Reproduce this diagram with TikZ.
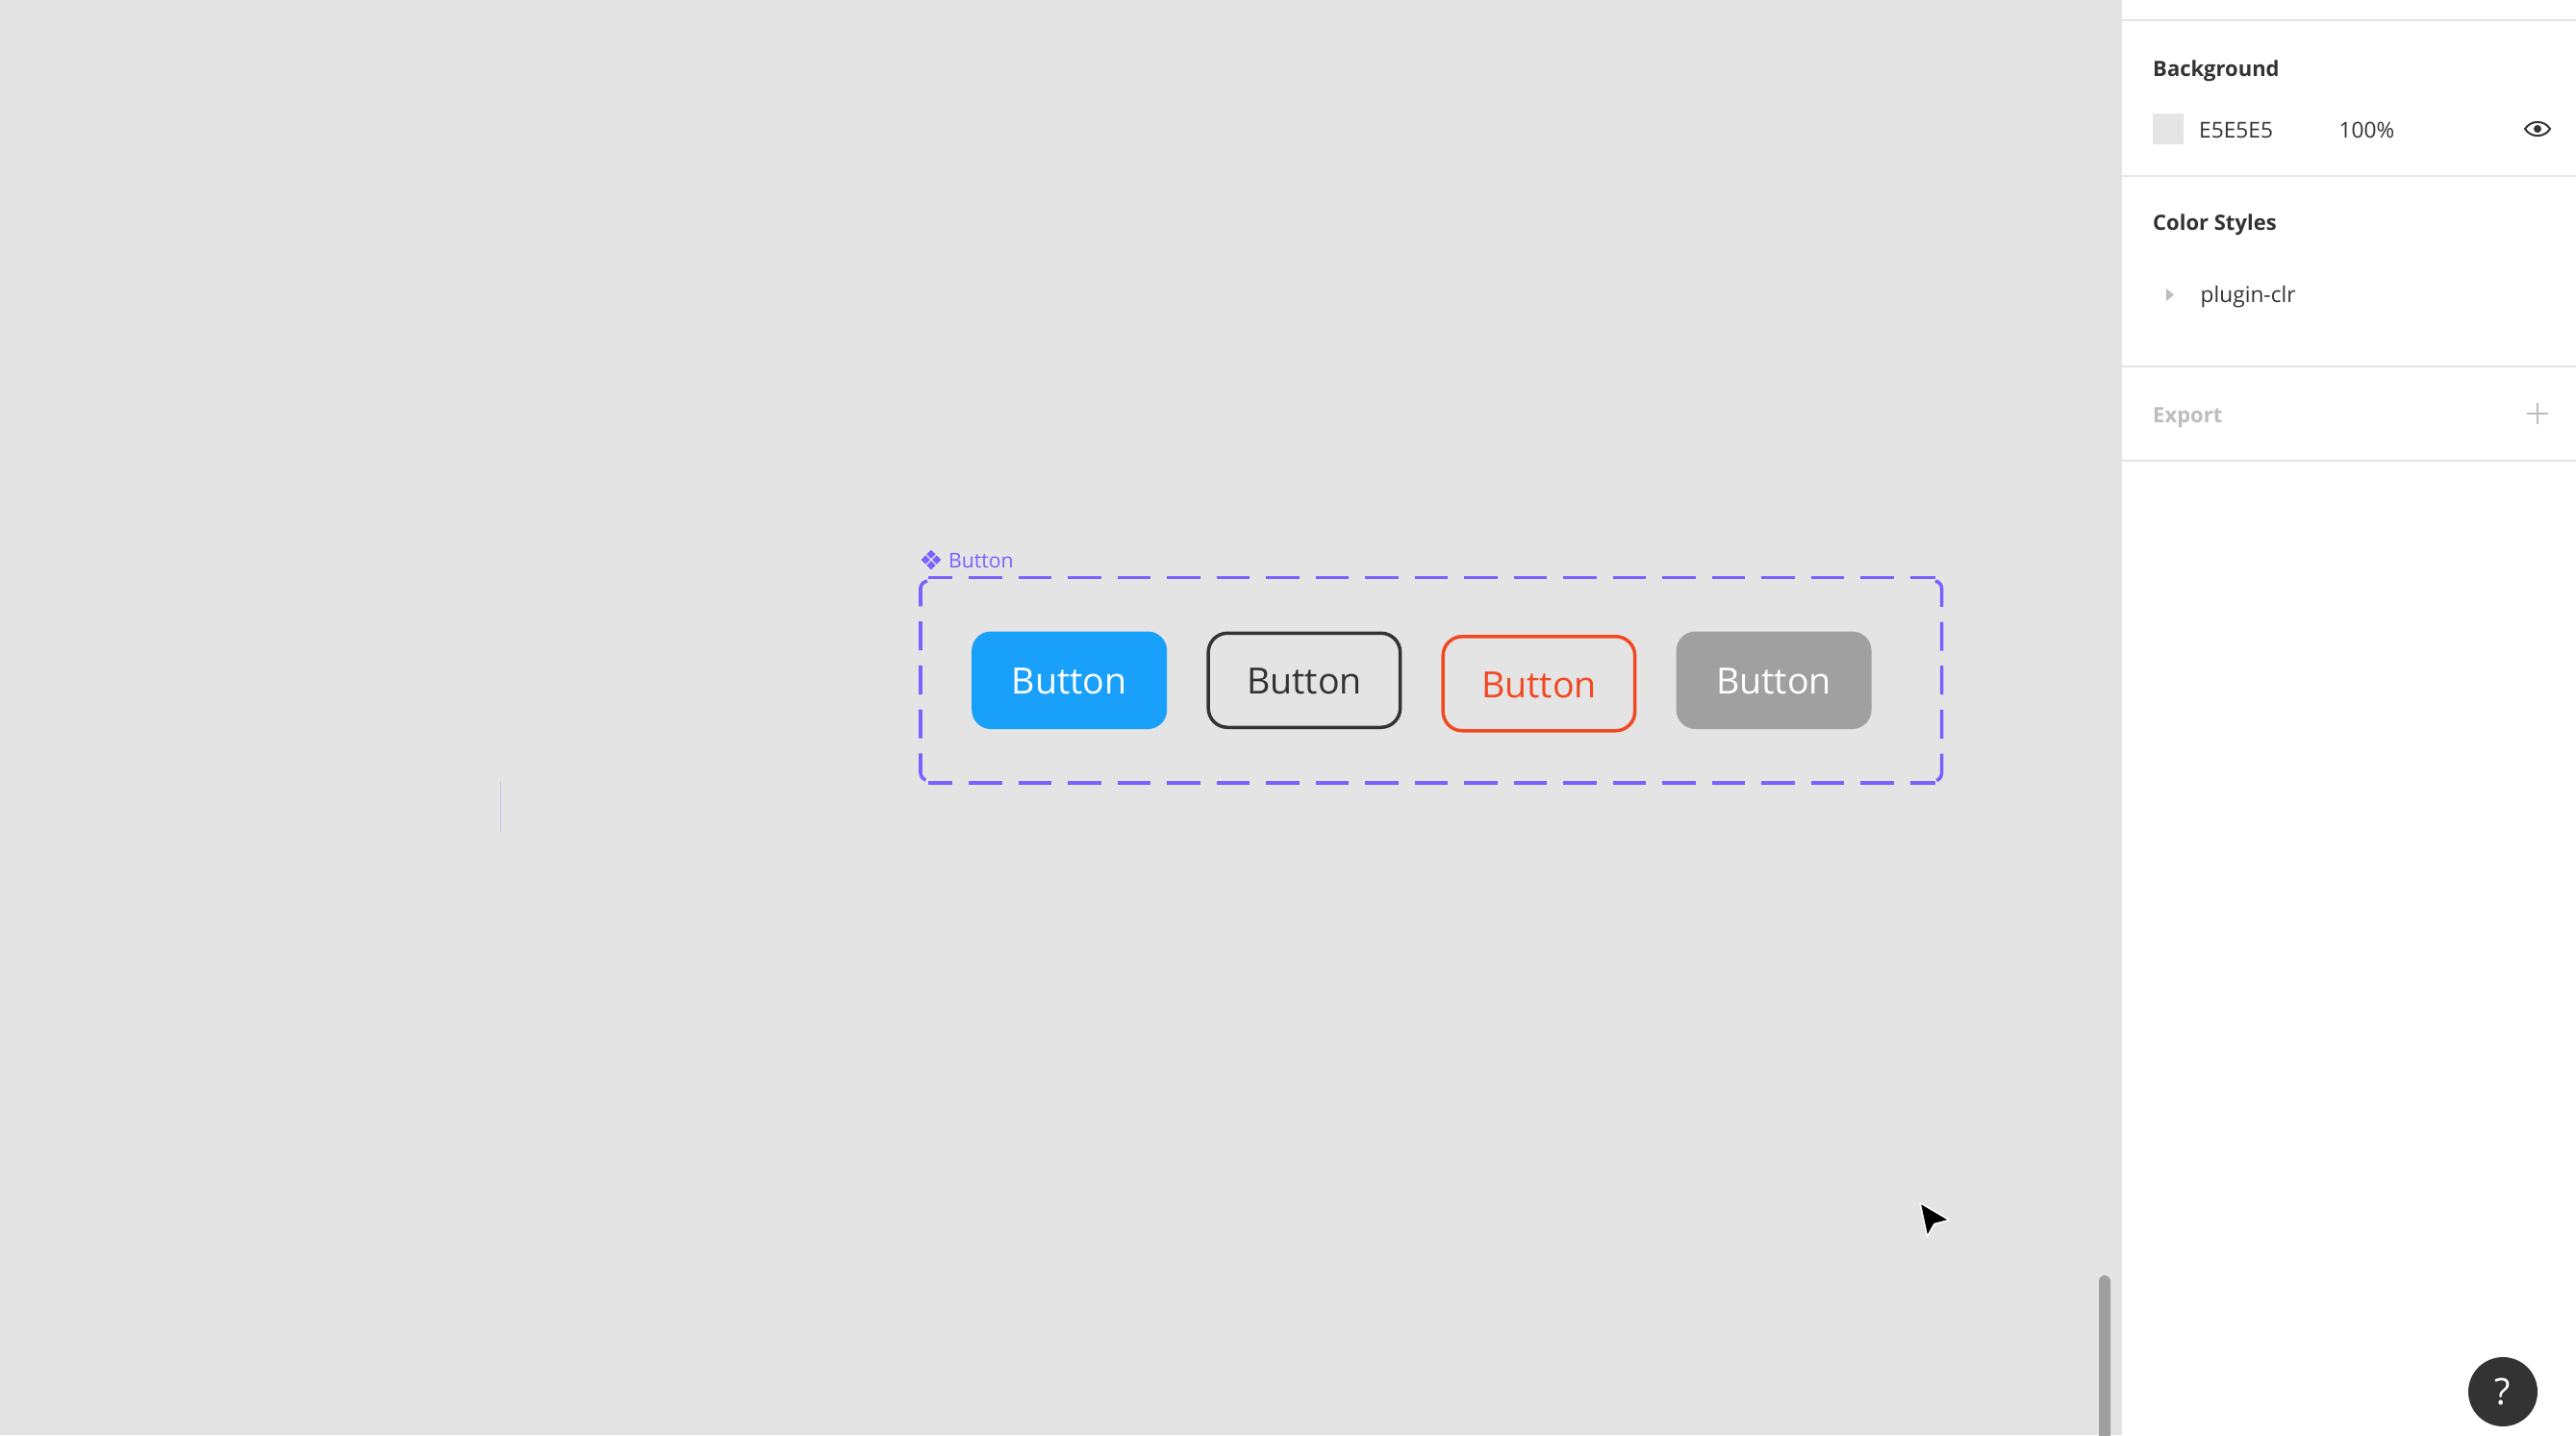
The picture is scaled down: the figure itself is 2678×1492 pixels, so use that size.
\documentclass[tikz,border=0pt]{standalone}
\usepackage{fontspec}
\setmainfont{Open Sans}
\usetikzlibrary{positioning}
\definecolor{CanvasBg}{HTML}{E4E4E4}
\definecolor{PanelLn} {HTML}{E5E5E5}
\definecolor{Violet}  {HTML}{7B61FF}
\definecolor{FigBlue} {HTML}{18A0FB}
\definecolor{Ink}     {HTML}{333333}
\definecolor{Tomato}  {HTML}{F24822}
\definecolor{MidGrey} {HTML}{A0A0A0}
\definecolor{SoftGrey}{HTML}{BDBDBD}
\begin{document}
\begin{tikzpicture}[x=1pt,y=-1pt,
  btn/.style={rectangle,rounded corners=20pt,minimum width=203pt,minimum height=101.5pt,
    inner sep=0pt,text height=29.4pt,font=\fontsize{37.6}{38}\selectfont},
  btnline/.style={btn,draw,line width=3.5pt,minimum width=199.5pt,minimum height=98pt},
  head/.style={anchor=base west,inner sep=0pt,font=\fontsize{22}{24}\selectfont\bfseries,text=Ink},
  item/.style={anchor=base west,inner sep=0pt,font=\fontsize{22.7}{24}\selectfont,text=Ink},
  rule/.style={draw=PanelLn,line width=2pt},
  frameln/.style={draw=Violet,line width=3.6pt},
  hdash/.style={frameln,dash pattern=on 34.3pt off 17.2pt,dash phase=9.3pt},
  vdash/.style={frameln,dash pattern=on 30pt off 15.7pt},
  node distance=41pt
]
\useasboundingbox (0,0) rectangle (2678,1492);
\fill[CanvasBg] (0,0) rectangle (2206,1492);
\fill[white] (2206,0) rectangle (2678,1492);
% buttons
\node[btn,fill=FigBlue,text=white,anchor=north west] (btn1) at (1010,656.3) {Button};
\node[btnline,draw=Ink,text=Ink,right=of btn1] (btn2) {Button};
\node[btnline,draw=Tomato,text=Tomato,right=of btn2,yshift=-3.5pt] (btn3) {Button};
\node[btn,fill=MidGrey,text=white,right=of btn3,yshift=3.5pt] (btn4) {Button};
% dashed frame
\draw[hdash] (965,600.5) -- (2012,600.5);
\draw[hdash] (965,814) -- (2012,814);
\draw[vdash] (964,604) .. controls (959.5,605) and (957,608) .. (957,612) -- (957,803)
  .. controls (957,808) and (960,811) .. (965,811.5);
\draw[vdash] (2012,604) .. controls (2016,605) and (2018.6,608) .. (2018.6,612) -- (2018.6,803)
  .. controls (2018.6,808) and (2016,811) .. (2012,811.5);
% frame title
\foreach \dx/\dy in {-5.8/0,5.8/0,0/-5.8,0/5.8}
  \fill[Violet] (968+\dx,582+\dy) +(-4.6,0) -- +(0,-4.6) -- +(4.6,0) -- +(0,4.6) -- cycle;
\node[anchor=base west,inner sep=0pt,text=Violet,font=\fontsize{21.2}{22}\selectfont] (title) at (986,590.5) {Button};
\draw[draw=Violet!25!CanvasBg,line width=1.5pt] (520.7,812) -- (520.7,865);
% panel
\draw[rule] (2206,21) -- (2678,21);
\draw[rule] (2206,182.7) -- (2678,182.7);
\draw[rule] (2206,380.7) -- (2678,380.7);
\draw[rule] (2206,479) -- (2678,479);
\node[head] (bghead) at (2238,79) {Background};
\fill[PanelLn,rounded corners=1pt] (2238,118) rectangle (2270,150);
\node[item] (bghex) at (2286,143) {E5E5E5};
\node[item] (bgpct) at (2431.5,143) {100\%};
\draw[Ink,line width=2pt] (2625,134) .. controls (2631,124.5) and (2645,124.5) .. (2651,134)
  .. controls (2645,143.5) and (2631,143.5) .. (2625,134) -- cycle;
\fill[Ink] (2638,134) circle (4pt);
\node[head] (stylehead) at (2238,239) {Color Styles};
\fill[SoftGrey] (2252,300) -- (2260,306.5) -- (2252,313) -- cycle;
\node[item] (plugin) at (2287.5,314.5) {plugin-clr};
\node[head,text=SoftGrey] (exporthead) at (2238,439) {Export};
\draw[SoftGrey,line width=1.5pt] (2627,430) -- (2649,430) (2638,419) -- (2638,441);
% scrollbar
\fill[MidGrey,rounded corners=6pt] (2182,1326) rectangle (2194,1510);
% cursor
\draw[white,line width=1.5pt,line join=round,fill=black] (1996,1250.5) -- (2026.5,1268.5) -- (2011,1272.5) -- (2003.5,1285.5) -- cycle;
% help
\node[circle,fill=Ink,minimum size=72pt,inner sep=0pt,text=white,font=\fontsize{38}{38}\selectfont] (help) at (2602,1447) {?};
\end{tikzpicture}
\end{document}
